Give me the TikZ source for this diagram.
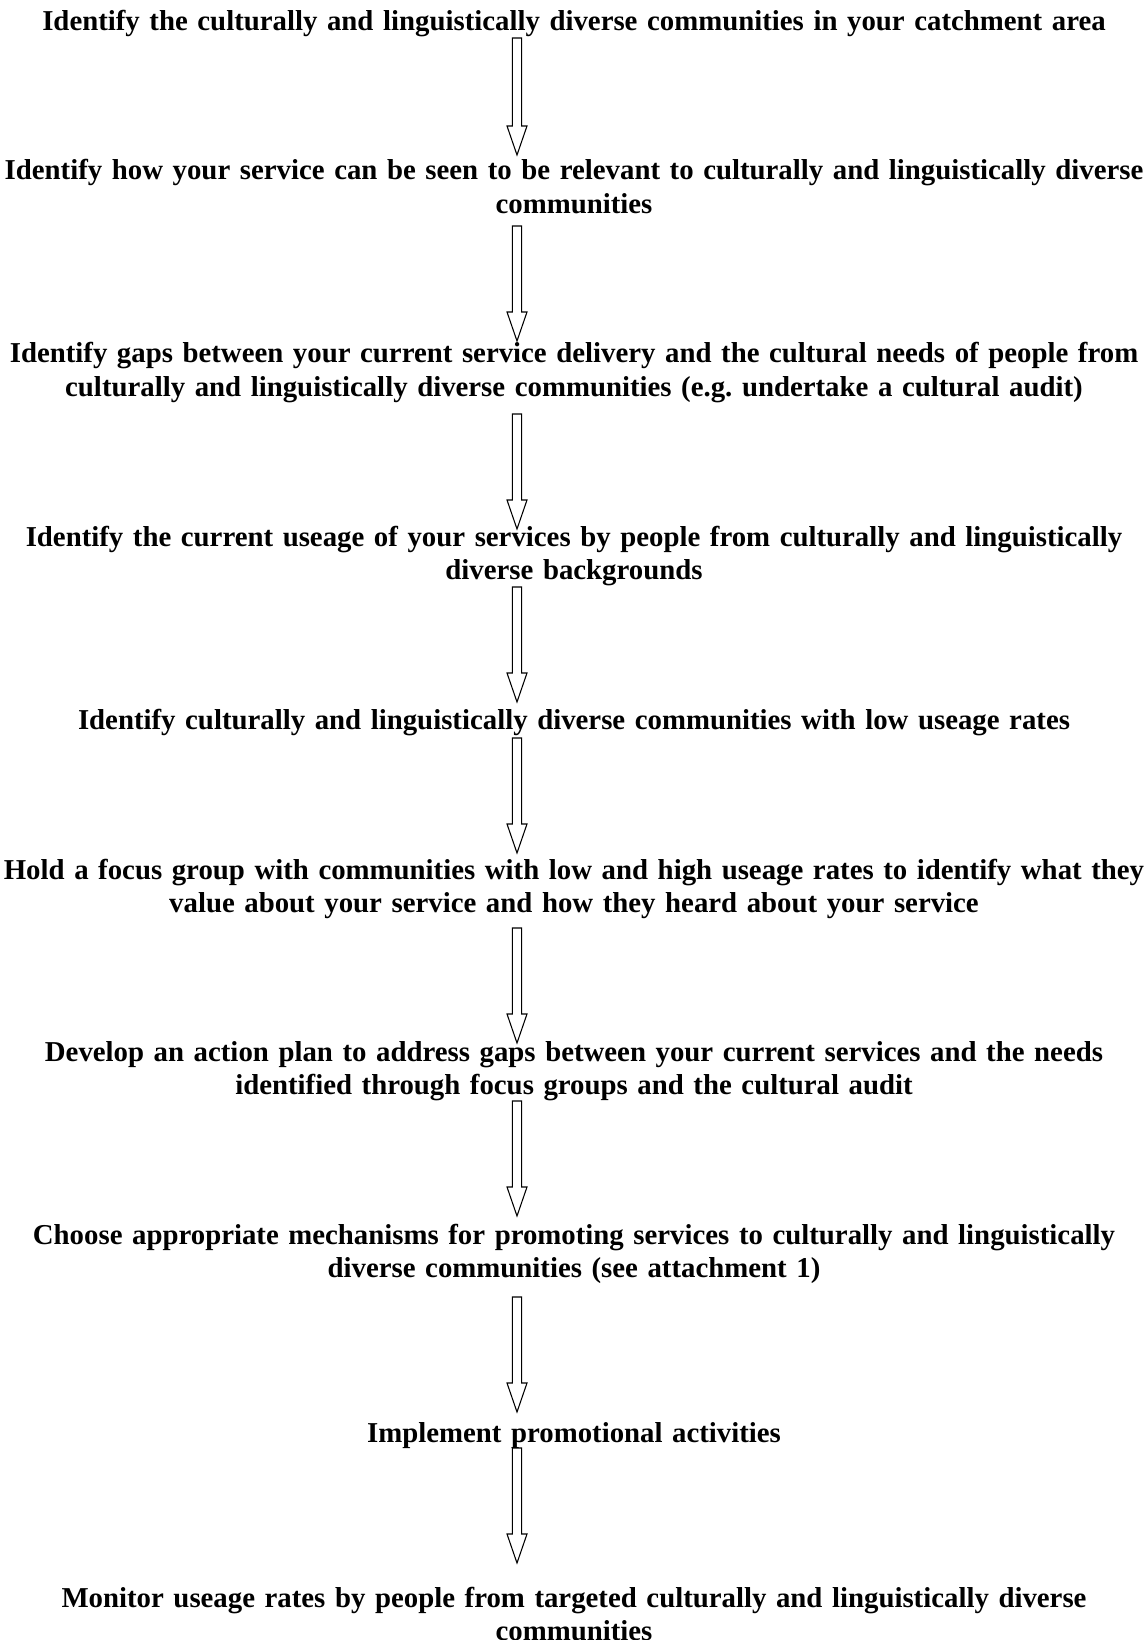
\documentclass[tikz,border=0pt]{standalone}
\usepackage{fontspec}
\setmainfont{Liberation Serif}
\usepackage{tikz}
\usetikzlibrary{calc, positioning}
\tikzstyle{etape} = [anchor = base, text width = 1140, align = center, inner sep = 0, font = \fontsize{21.6pt}{25.1pt}\selectfont\bfseries]
\tikzstyle{fleche} = [draw = black, line width = 0.8pt, fill = white, line join = miter]
\newcommand{\fleche}[2]{\draw[fleche] ($(#1)+(-4.7,0)$) -- ($(#2)+(-4.7,-29)$) -- ($(#2)+(-10,-29)$) -- (#2) -- ($(#2)+(10,-29)$) -- ($(#2)+(4.7,-29)$) -- ($(#1)+(4.7,0)$) -- cycle;}

\begin{document}
\begin{tikzpicture}[x = 0.75pt, y = -0.75pt]
\useasboundingbox (0,0) rectangle (1144,1640);
\node (1) [etape] at (574,31) {Identify the culturally and linguistically diverse communities in your catchment area};
\node (2) [etape] at (574,180) {Identify how your service can be seen to be relevant to culturally and linguistically diverse\\ communities};
\node (3) [etape] at (574,363) {Identify gaps between your current service delivery and the cultural needs of people from\\ culturally and linguistically diverse communities (e.g.\ undertake a cultural audit)};
\node (4) [etape] at (574,546) {Identify the current useage of your services by people from culturally and linguistically\\ diverse backgrounds};
\node (5) [etape] at (574,729) {Identify culturally and linguistically diverse communities with low useage rates};
\node (6) [etape] at (574,879) {Hold a focus group with communities with low and high useage rates to identify what they\\ value about your service and how they heard about your service};
\node (7) [etape] at (574,1061) {Develop an action plan to address gaps between your current services and the needs\\ identified through focus groups and the cultural audit};
\node (8) [etape] at (574,1244) {Choose appropriate mechanisms for promoting services to culturally and linguistically\\ diverse communities (see attachment 1)};
\node (9) [etape] at (574,1442) {Implement promotional activities};
\node (10) [etape] at (574,1607) {Monitor useage rates by people from targeted culturally and linguistically diverse\\ communities};
% fleches creuses entre les etapes
\coordinate (d1) at (517,38);   \coordinate (f1) at (517,155);
\coordinate (d2) at (517,226);  \coordinate (f2) at (517,341);
\coordinate (d3) at (517,414);  \coordinate (f3) at (517,529);
\coordinate (d4) at (517,587);  \coordinate (f4) at (517,702);
\coordinate (d5) at (517,738);  \coordinate (f5) at (517,853);
\coordinate (d6) at (517,928);  \coordinate (f6) at (517,1043);
\coordinate (d7) at (517,1101); \coordinate (f7) at (517,1216);
\coordinate (d8) at (517,1297); \coordinate (f8) at (517,1412);
\coordinate (d9) at (517,1448); \coordinate (f9) at (517,1563);
\fleche{d1}{f1}
\fleche{d2}{f2}
\fleche{d3}{f3}
\fleche{d4}{f4}
\fleche{d5}{f5}
\fleche{d6}{f6}
\fleche{d7}{f7}
\fleche{d8}{f8}
\fleche{d9}{f9}
\end{tikzpicture}
\end{document}
